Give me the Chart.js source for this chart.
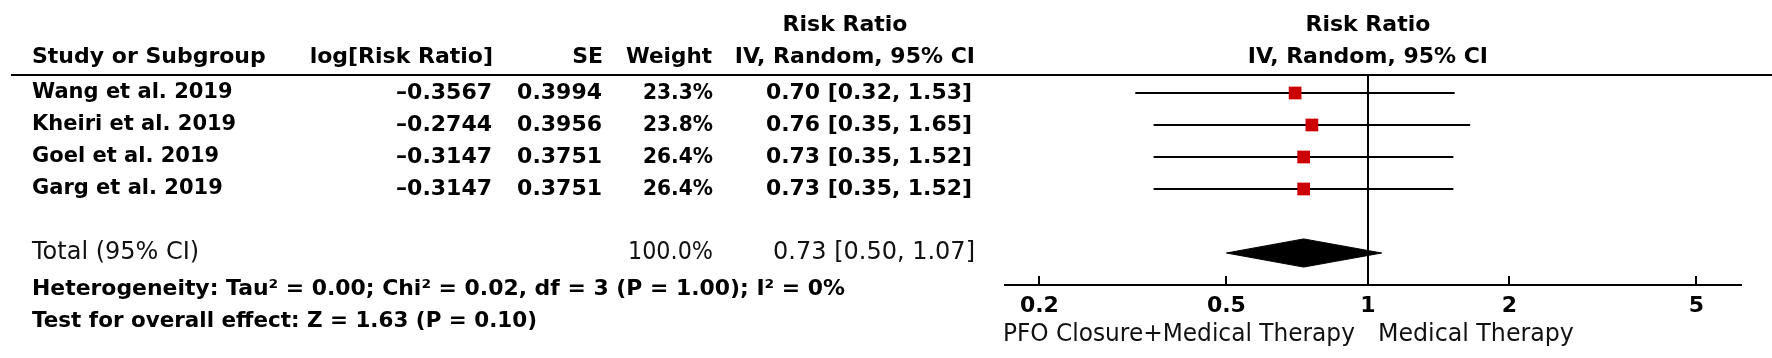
<!DOCTYPE html>
<html>
<head>
<meta charset="utf-8">
<script src="https://cdn.jsdelivr.net/npm/chart.js@4"></script>
<style>
  body { margin: 0; background: #fff; }
  canvas { display: block; }
</style>
</head>
<body>
<canvas id="forest" width="1772" height="358"></canvas>
<script>
// study rows
const studies = ['Wang et al. 2019', 'Kheiri et al. 2019', 'Goel et al. 2019', 'Garg et al. 2019'];
const logRR = [-0.3567, -0.2744, -0.3147, -0.3147];
const seVals = [0.3994, 0.3956, 0.3751, 0.3751];
const weights = [23.3, 23.8, 26.4, 26.4];
const rr = [0.70, 0.76, 0.73, 0.73];
const rrLow = [0.32, 0.35, 0.35, 0.35];
const rrHigh = [1.53, 1.65, 1.52, 1.52];

// pooled estimate
const totalWeight = 100.0;
const totalRR = 0.73;
const totalLow = 0.50;
const totalHigh = 1.07;

const tickValues = [0.2, 0.5, 1, 2, 5];
const heterogeneity = 'Heterogeneity: Tau\u00b2 = 0.00; Chi\u00b2 = 0.02, df = 3 (P = 1.00); I\u00b2 = 0%';
const overallTest = 'Test for overall effect: Z = 1.63 (P = 0.10)';
const favoursLeft = 'PFO Closure+Medical Therapy';
const favoursRight = 'Medical Therapy';

const FONT = 'DejaVu Sans';
const totalRow = studies.length + 1; // one blank row before the total
const diamondHalf = 0.44;

function fmt2(v) { return v.toFixed(2); }
function ciText(est, lo, hi) { return fmt2(est) + ' [' + fmt2(lo) + ', ' + fmt2(hi) + ']'; }
function dash(v) { return (v < 0 ? '\u2013' : '') + Math.abs(v).toFixed(4); }

function txt(ctx, s, x, y, align, weight, size, maxW) {
    ctx.font = weight + ' ' + size + 'px "' + FONT + '"';
    ctx.textAlign = align;
    ctx.textBaseline = 'middle';
    if (maxW) ctx.fillText(s, x, y, maxW); else ctx.fillText(s, x, y);
}

const tablePlugin = {
    id: 'forestTable',
    afterDraw(chart) {
        const ctx = chart.ctx;
        const area = chart.chartArea;
        const xs = chart.scales.x;
        const ys = chart.scales.y;
        ctx.save();
        ctx.fillStyle = '#000';
        ctx.strokeStyle = '#000';

        // header rule
        ctx.lineWidth = 2;
        ctx.beginPath();
        ctx.moveTo(11, area.top);
        ctx.lineTo(chart.width, area.top);
        ctx.stroke();

        // tick marks pointing up from the axis
        tickValues.forEach(v => {
            const px = Math.round(xs.getPixelForValue(v));
            ctx.beginPath();
            ctx.moveTo(px, area.bottom - 9);
            ctx.lineTo(px, area.bottom);
            ctx.stroke();
        });

        // headers
        const one = xs.getPixelForValue(1);
        txt(ctx, 'Risk Ratio', 845, 25, 'center', 'bold', 22);
        txt(ctx, 'Risk Ratio', one, 25, 'center', 'bold', 22);
        txt(ctx, 'Study or Subgroup', 32, 57, 'left', 'bold', 22, 235);
        txt(ctx, 'log[Risk Ratio]', 493, 57, 'right', 'bold', 22, 184);
        txt(ctx, 'SE', 603, 57, 'right', 'bold', 22);
        txt(ctx, 'Weight', 712, 57, 'right', 'bold', 22, 86);
        txt(ctx, 'IV, Random, 95% CI', 975, 57, 'right', 'bold', 22, 241);
        txt(ctx, 'IV, Random, 95% CI', one, 57, 'center', 'bold', 22, 241);

        // study rows
        studies.forEach((name, i) => {
            const y = ys.getPixelForValue(i);
            txt(ctx, name, 32, y, 'left', 'bold', 21);
            txt(ctx, dash(logRR[i]), 492, y, 'right', 'bold', 22);
            txt(ctx, seVals[i].toFixed(4), 602, y, 'right', 'bold', 22);
            txt(ctx, weights[i].toFixed(1) + '%', 713, y, 'right', 'bold', 22, 70);
            txt(ctx, ciText(rr[i], rrLow[i], rrHigh[i]), 972, y, 'right', 'bold', 22, 206);
        });

        // total row
        const ty = ys.getPixelForValue(totalRow);
        ctx.fillStyle = '#111';
        txt(ctx, 'Total (95% CI)', 32, ty, 'left', 'normal', 24);
        txt(ctx, totalWeight.toFixed(1) + '%', 713, ty, 'right', 'normal', 24, 85);
        txt(ctx, ciText(totalRR, totalLow, totalHigh), 975, ty, 'right', 'normal', 24, 202);

        ctx.fillStyle = '#000';
        txt(ctx, heterogeneity, 32, 289, 'left', 'bold', 22, 813);
        txt(ctx, overallTest, 32, 321, 'left', 'bold', 21.5, 505);

        // favours labels under the axis
        ctx.fillStyle = '#111';
        txt(ctx, favoursLeft, one - 13, 335, 'right', 'normal', 24, 352);
        txt(ctx, favoursRight, one + 10, 335, 'left', 'normal', 24, 196);
        ctx.restore();
    }
};

const datasets = [];
// squares first so they sit on top of the whiskers
datasets.push({
    data: rr.map((v, i) => ({ x: v, y: i })),
    pointStyle: 'rect',
    pointRadius: 9,
    backgroundColor: '#cc0000',
    borderColor: '#cc0000',
    borderWidth: 0
});
studies.forEach((s, i) => {
    datasets.push({
        data: [{ x: rrLow[i], y: i }, { x: rrHigh[i], y: i }],
        showLine: true,
        borderColor: '#000',
        borderWidth: 2,
        pointRadius: 0
    });
});
datasets.push({
    data: [
        { x: totalLow, y: totalRow },
        { x: totalRR, y: totalRow - diamondHalf },
        { x: totalHigh, y: totalRow },
        { x: totalRR, y: totalRow + diamondHalf },
        { x: totalLow, y: totalRow }
    ],
    showLine: true,
    fill: 'shape',
    backgroundColor: '#000',
    borderColor: '#000',
    borderWidth: 1,
    pointRadius: 0,
    tension: 0
});

const ctx = document.getElementById('forest').getContext('2d');
new Chart(ctx, {
    type: 'scatter',
    data: { datasets: datasets },
    options: {
        responsive: false,
        animation: false,
        layout: { padding: { left: 1005, right: 31, top: 75, bottom: 0 } },
        plugins: {
            legend: { display: false },
            tooltip: { enabled: false }
        },
        scales: {
            x: {
                type: 'logarithmic',
                min: 0.169,
                max: 6.22,
                afterBuildTicks: s => { s.ticks = tickValues.map(v => ({ value: v })); },
                afterFit: s => { s.height = 73; },
                grid: {
                    drawTicks: false,
                    lineWidth: 2,
                    color: c => (c.tick && c.tick.value === 1) ? '#000' : 'rgba(0,0,0,0)'
                },
                border: { color: '#000', width: 2 },
                ticks: {
                    color: '#000',
                    padding: 8,
                    autoSkip: false,
                    maxRotation: 0,
                    font: { family: FONT, weight: 'bold', size: 22 },
                    callback: v => String(v)
                }
            },
            y: {
                type: 'linear',
                reverse: true,
                min: -0.5625,
                max: 6,
                display: false
            }
        }
    },
    plugins: [tablePlugin]
});
</script>
</body>
</html>
